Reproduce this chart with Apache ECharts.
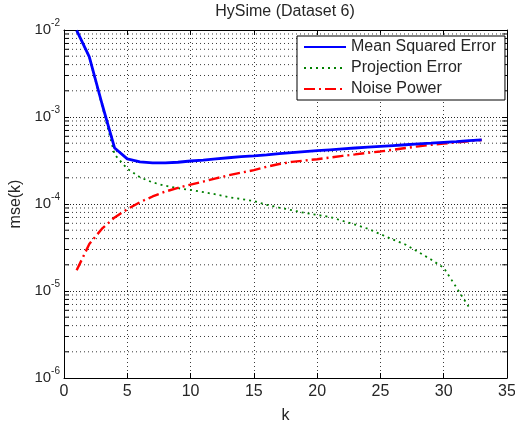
<!DOCTYPE html>
<html>
<head>
<meta charset="utf-8">
<script src="https://cdn.jsdelivr.net/npm/echarts@6/dist/echarts.min.js"></script>
<style>
  html, body { margin: 0; padding: 0; background: #fff; }
  #chart { width: 515px; height: 421px; }
</style>
</head>
<body>
<div id="chart"></div>
<script>
// Number of estimated endmembers k
const kValues = [1, 2, 3, 4, 5, 6, 7, 8, 9, 10, 11, 12, 13, 14, 15, 16, 17,
                 18, 19, 20, 21, 22, 23, 24, 25, 26, 27, 28, 29, 30, 31, 32, 33];

// Mean squared error mse(k) = projection error + noise power
const meanSquaredError = [
  9.9e-3, 4.9e-3, 1.42e-3, 4.4e-4, 3.3e-4, 3.05e-4, 2.97e-4, 2.97e-4, 3.02e-4, 3.12e-4,
  3.2e-4, 3.3e-4, 3.4e-4, 3.5e-4, 3.58e-4, 3.68e-4, 3.8e-4, 3.9e-4, 4.0e-4, 4.1e-4,
  4.2e-4, 4.3e-4, 4.4e-4, 4.5e-4, 4.6e-4, 4.7e-4, 4.8e-4, 4.9e-4, 5.0e-4, 5.12e-4,
  5.22e-4, 5.35e-4, 5.45e-4
];

// Projection error term (defined up to k = 32)
const projectionError = [
  9.8e-3, 4.85e-3, 1.37e-3, 3.7e-4, 2.55e-4, 2.03e-4, 1.77e-4, 1.62e-4, 1.52e-4, 1.45e-4,
  1.37e-4, 1.29e-4, 1.2e-4, 1.14e-4, 1.08e-4, 9.8e-5, 9.1e-5, 8.5e-5, 7.9e-5, 7.5e-5,
  7.1e-5, 6.4e-5, 5.8e-5, 5.2e-5, 4.5e-5, 3.9e-5, 3.4e-5, 2.8e-5, 2.3e-5, 1.85e-5,
  1.1e-5, 6.5e-6
];

// Noise power term
const noisePower = [
  1.73e-5, 3.47e-5, 5.2e-5, 7.0e-5, 8.7e-5, 1.05e-4, 1.22e-4, 1.39e-4, 1.53e-4, 1.67e-4,
  1.81e-4, 1.97e-4, 2.14e-4, 2.29e-4, 2.45e-4, 2.68e-4, 2.88e-4, 3.05e-4, 3.16e-4, 3.27e-4,
  3.42e-4, 3.57e-4, 3.72e-4, 3.88e-4, 4.02e-4, 4.2e-4, 4.4e-4, 4.6e-4, 4.78e-4, 4.95e-4,
  5.1e-4, 5.28e-4, 5.45e-4
];

// Axis ranges and tick layout
const xTickStep = 5;
const xRange = [0, 35];
const yRange = [1e-6, 1e-2];
const decadeExponents = [-6, -5, -4, -3];
const minorMantissas = [2, 3, 4, 5, 6, 7, 8, 9];

const FONT = 'Liberation Sans, Arial, Helvetica, sans-serif';
const TEXT = '#262626';

const pairs = (xs, ys) => ys.map((y, i) => [xs[i], y]);
const GAP = ['-', '-'];

// Minor log grid positions (2..9 x 10^n)
const minorValues = [];
decadeExponents.forEach(e => minorMantissas.forEach(m => minorValues.push(m * Math.pow(10, e))));

// Minor grid as broken polylines across the plot width
const minorGridPath = [];
minorValues.forEach(v => {
  minorGridPath.push([xRange[0], v], [xRange[1], v], GAP);
});

// Short inward minor ticks on the left and right frame
const tickLen = 0.38;
const minorTickPath = [];
minorValues.forEach(v => {
  minorTickPath.push([xRange[0], v], [xRange[0] + tickLen, v], GAP);
  minorTickPath.push([xRange[1] - tickLen, v], [xRange[1], v], GAP);
});

const gridDots = { color: '#3a3a3a', width: 1, type: [1, 3] };

const chart = echarts.init(document.getElementById('chart'), null, { renderer: 'canvas' });

chart.setOption({
  animation: false,
  backgroundColor: '#fff',
  title: {
    text: 'HySime (Dataset 6)',
    left: 285,
    top: 4,
    textAlign: 'center',
    padding: 0,
    textStyle: { fontFamily: FONT, fontSize: 16, fontWeight: 'normal', color: TEXT }
  },
  grid: { left: 64, right: 8, top: 30, bottom: 43, outerBoundsMode: 'none', containLabel: false },
  legend: {
    data: ['Mean Squared Error', 'Projection Error', 'Noise Power'],
    orient: 'vertical',
    left: 297,
    top: 36,
    padding: [3, 9, 3, 6],
    itemWidth: 42,
    itemHeight: 14,
    itemGap: 5,
    borderColor: '#000',
    borderWidth: 1,
    borderRadius: 0,
    backgroundColor: '#fff',
    itemStyle: { opacity: 0 },
    textStyle: { fontFamily: FONT, fontSize: 16, color: TEXT },
    selectedMode: false
  },
  xAxis: [
    {
      type: 'value',
      min: xRange[0],
      max: xRange[1],
      interval: xTickStep,
      name: 'k',
      nameLocation: 'middle',
      nameGap: 30,
      nameTextStyle: { fontFamily: FONT, fontSize: 16, color: TEXT },
      axisLine: { show: true, onZero: false, lineStyle: { color: '#000', width: 1 } },
      axisTick: { show: true, inside: true, length: 5, lineStyle: { color: '#000' } },
      axisLabel: { margin: 6, fontFamily: FONT, fontSize: 16, color: TEXT },
      splitLine: { show: true, lineStyle: gridDots }
    },
    {
      type: 'value',
      position: 'top',
      min: xRange[0],
      max: xRange[1],
      interval: xTickStep,
      axisLine: { show: true, onZero: false, lineStyle: { color: '#000', width: 1 } },
      axisTick: { show: true, inside: true, length: 5, lineStyle: { color: '#000' } },
      axisLabel: { show: false },
      splitLine: { show: false }
    }
  ],
  yAxis: [
    {
      type: 'log',
      logBase: 10,
      min: yRange[0],
      max: yRange[1],
      name: 'mse(k)',
      nameLocation: 'middle',
      nameGap: 40,
      nameRotate: 90,
      nameTextStyle: { fontFamily: FONT, fontSize: 16, color: TEXT },
      axisLine: { show: true, onZero: false, lineStyle: { color: '#000', width: 1 } },
      axisTick: { show: true, inside: true, length: 5, lineStyle: { color: '#000' } },
      axisLabel: {
        margin: 4,
        formatter: v => '{b|10}{s|' + Math.round(Math.log10(v)) + '}',
        rich: {
          b: { fontFamily: FONT, fontSize: 15, color: TEXT, lineHeight: 24, verticalAlign: 'middle' },
          s: { fontFamily: FONT, fontSize: 10, color: TEXT, lineHeight: 12, verticalAlign: 'top' }
        }
      },
      splitLine: { show: true, lineStyle: { color: '#222', width: 1, type: [1, 2] } }
    },
    {
      type: 'log',
      logBase: 10,
      position: 'right',
      min: yRange[0],
      max: yRange[1],
      axisLine: { show: true, onZero: false, lineStyle: { color: '#000', width: 1 } },
      axisTick: { show: true, inside: true, length: 5, lineStyle: { color: '#000' } },
      axisLabel: { show: false },
      splitLine: { show: false }
    }
  ],
  series: [
    {
      // minor log grid
      type: 'line',
      name: 'grid-minor',
      data: minorGridPath,
      symbol: 'none',
      showSymbol: false,
      connectNulls: false,
      silent: true,
      z: 1,
      lineStyle: gridDots,
      itemStyle: { color: '#3a3a3a' }
    },
    {
      // minor ticks on the frame
      type: 'line',
      name: 'ticks-minor',
      data: minorTickPath,
      symbol: 'none',
      showSymbol: false,
      connectNulls: false,
      silent: true,
      z: 1,
      lineStyle: { color: '#000', width: 1, type: 'solid' },
      itemStyle: { color: '#000' }
    },
    {
      type: 'line',
      name: 'Noise Power',
      data: pairs(kValues, noisePower),
      showSymbol: false,
      symbol: 'none',
      z: 3,
      lineStyle: { color: '#ff0000', width: 2.4, type: [11, 4, 2, 4] },
      itemStyle: { color: '#ff0000' }
    },
    {
      type: 'line',
      name: 'Projection Error',
      data: pairs(kValues, projectionError),
      showSymbol: false,
      symbol: 'none',
      z: 2,
      lineStyle: { color: '#008000', width: 1.8, type: [2, 4] },
      itemStyle: { color: '#008000' }
    },
    {
      type: 'line',
      name: 'Mean Squared Error',
      data: pairs(kValues, meanSquaredError),
      showSymbol: false,
      symbol: 'none',
      z: 4,
      lineStyle: { color: '#0000ff', width: 2.8, type: 'solid' },
      itemStyle: { color: '#0000ff' }
    }
  ]
});
</script>
</body>
</html>
